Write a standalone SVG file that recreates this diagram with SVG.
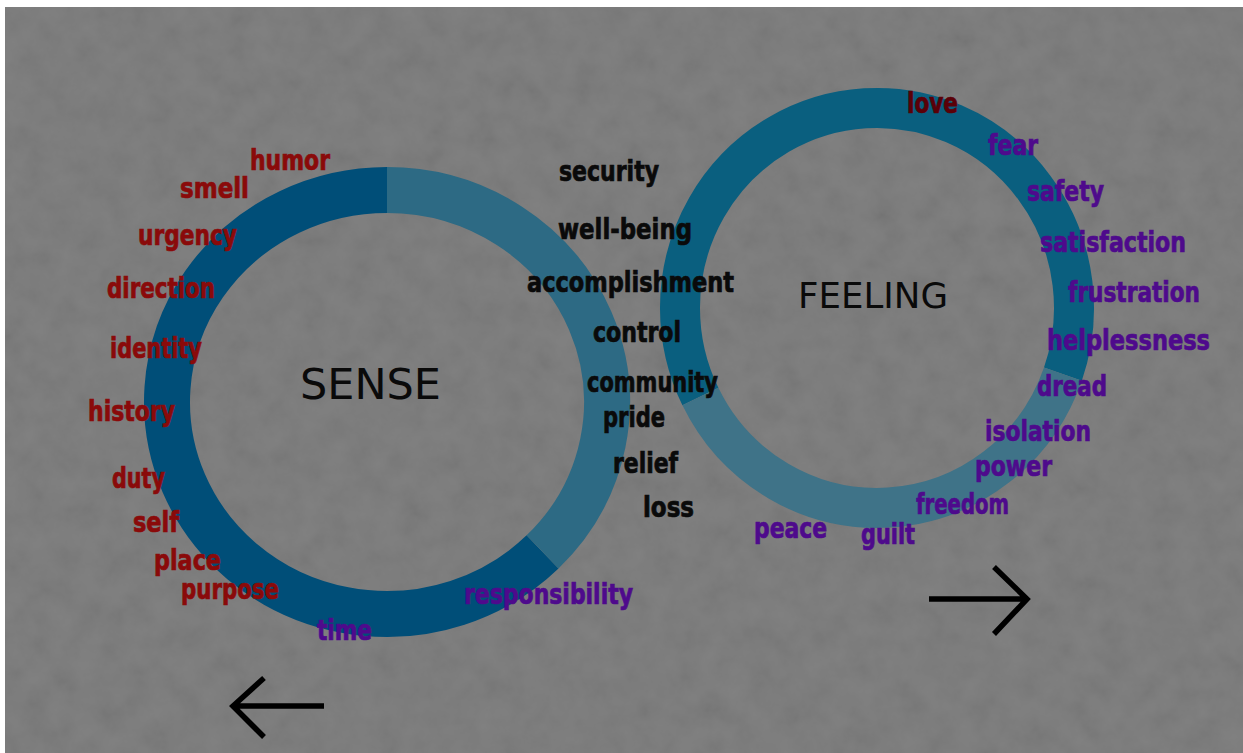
<svg xmlns="http://www.w3.org/2000/svg" width="1243" height="753" viewBox="0 0 1243 753">
<defs>
<filter id="tex" x="0" y="0" width="100%" height="100%">
<feTurbulence type="fractalNoise" baseFrequency="0.04" numOctaves="4" seed="7"/>
<feColorMatrix type="matrix" values="1 0 0 0 0  1 0 0 0 0  1 0 0 0 0  0 0 0 0 0.07"/>
</filter>
<style>
.w{font-family:"DejaVu Sans Condensed","Liberation Sans Narrow","Roboto","Liberation Sans",sans-serif;font-weight:bold;font-size:28px;stroke-width:0.7px}
.r{fill:#8a0a0a;stroke:#8a0a0a}
.p{fill:#4e0a8c;stroke:#4e0a8c}
.k{fill:#0a0a0a;stroke:#0a0a0a}
.m{fill:#5a0008;stroke:#5a0008}
.title{font-family:"DejaVu Sans",sans-serif;fill:#0a0a0a}
.ring{fill:none;stroke-linecap:butt}
.arrow{fill:none;stroke:#000;stroke-width:5.5;stroke-linecap:butt;stroke-linejoin:miter}
</style>
</defs>
<rect x="0" y="0" width="1243" height="753" fill="#ffffff"/>
<rect x="5" y="7" width="1238" height="746" fill="#787878"/>
<rect x="5" y="7" width="1238" height="746" filter="url(#tex)"/>

<g id="sense">
<path class="ring" d="M387,190 A220,212 0 1 0 542.56,551.91" stroke="#004e78" stroke-width="46"/>
<path class="ring" d="M542.56,551.91 A220,212 0 0 0 387,190" stroke="#2d6a84" stroke-width="46"/>
<text class="title" x="300" y="399" font-size="43" textLength="141" lengthAdjust="spacingAndGlyphs">SENSE</text>
</g>

<g id="feeling">
<path class="ring" d="M700.4,396.6 A197,200 0 1 1 1062.9,374.1" stroke="#0a5f7f" stroke-width="40"/>
<path class="ring" d="M1062.9,374.1 A197,200 0 0 1 700.4,396.6" stroke="#3f7388" stroke-width="40"/>
<text class="title" x="798" y="307.5" font-size="35" textLength="150" lengthAdjust="spacingAndGlyphs">FEELING</text>
</g>

<g id="sense-words">
<text class="w r" x="250" y="170" textLength="80" lengthAdjust="spacingAndGlyphs">humor</text>
<text class="w r" x="180" y="198" textLength="69" lengthAdjust="spacingAndGlyphs">smell</text>
<text class="w r" x="138" y="245" textLength="99" lengthAdjust="spacingAndGlyphs">urgency</text>
<text class="w r" x="107" y="298" textLength="108" lengthAdjust="spacingAndGlyphs">direction</text>
<text class="w r" x="110" y="358" textLength="92" lengthAdjust="spacingAndGlyphs">identity</text>
<text class="w r" x="88" y="421" textLength="87" lengthAdjust="spacingAndGlyphs">history</text>
<text class="w r" x="112" y="488" textLength="53" lengthAdjust="spacingAndGlyphs">duty</text>
<text class="w r" x="133" y="532" textLength="46" lengthAdjust="spacingAndGlyphs">self</text>
<text class="w r" x="154" y="570" textLength="67" lengthAdjust="spacingAndGlyphs">place</text>
<text class="w r" x="181" y="599" textLength="98" lengthAdjust="spacingAndGlyphs">purpose</text>
<text class="w p" x="317" y="640" textLength="55" lengthAdjust="spacingAndGlyphs">time</text>
<text class="w p" x="464" y="604" textLength="169" lengthAdjust="spacingAndGlyphs">responsibility</text>
</g>

<g id="shared-words">
<text class="w k" x="559" y="181" textLength="100" lengthAdjust="spacingAndGlyphs">security</text>
<text class="w k" x="558" y="239" textLength="134" lengthAdjust="spacingAndGlyphs">well-being</text>
<text class="w k" x="527" y="292" textLength="207" lengthAdjust="spacingAndGlyphs">accomplishment</text>
<text class="w k" x="593" y="342" textLength="88" lengthAdjust="spacingAndGlyphs">control</text>
<text class="w k" x="587" y="392" textLength="131" lengthAdjust="spacingAndGlyphs">community</text>
<text class="w k" x="603" y="427" textLength="62" lengthAdjust="spacingAndGlyphs">pride</text>
<text class="w k" x="613" y="473" textLength="65" lengthAdjust="spacingAndGlyphs">relief</text>
<text class="w k" x="643" y="517" textLength="51" lengthAdjust="spacingAndGlyphs">loss</text>
</g>

<g id="feeling-words">
<text class="w m" x="907" y="113" textLength="51" lengthAdjust="spacingAndGlyphs">love</text>
<text class="w p" x="988" y="155" textLength="50" lengthAdjust="spacingAndGlyphs">fear</text>
<text class="w p" x="1027" y="201" textLength="77" lengthAdjust="spacingAndGlyphs">safety</text>
<text class="w p" x="1040" y="252" textLength="146" lengthAdjust="spacingAndGlyphs">satisfaction</text>
<text class="w p" x="1068" y="302" textLength="132" lengthAdjust="spacingAndGlyphs">frustration</text>
<text class="w p" x="1047" y="350" textLength="163" lengthAdjust="spacingAndGlyphs">helplessness</text>
<text class="w p" x="1037" y="396" textLength="70" lengthAdjust="spacingAndGlyphs">dread</text>
<text class="w p" x="985" y="441" textLength="106" lengthAdjust="spacingAndGlyphs">isolation</text>
<text class="w p" x="975" y="476" textLength="77" lengthAdjust="spacingAndGlyphs">power</text>
<text class="w p" x="916" y="514" textLength="93" lengthAdjust="spacingAndGlyphs">freedom</text>
<text class="w p" x="861" y="544" textLength="54" lengthAdjust="spacingAndGlyphs">guilt</text>
<text class="w p" x="754" y="538" textLength="73" lengthAdjust="spacingAndGlyphs">peace</text>
</g>

<g id="connectors">
<path class="arrow" d="M929,599 H1026 M994,567 L1027,599 L994,634"/>
<path class="arrow" d="M324,706 H234 M264,678 L233,706 L264,737"/>
</g>
</svg>
